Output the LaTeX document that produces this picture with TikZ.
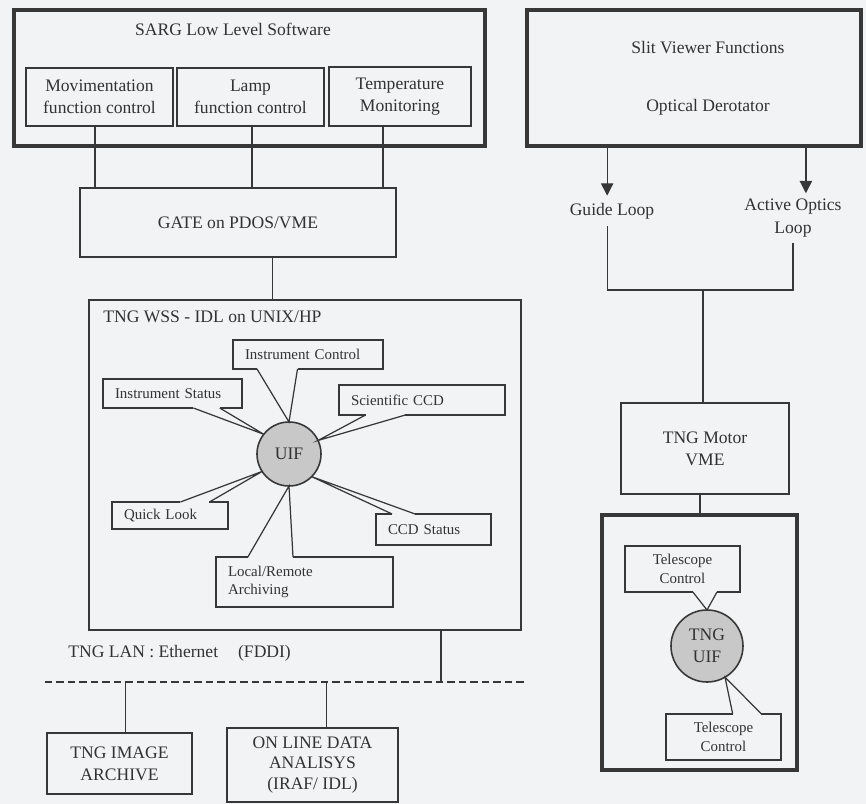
\documentclass[tikz,border=0pt]{standalone}
\usepackage{fontspec}
\setmainfont{Liberation Serif}
\usetikzlibrary{calc,arrows.meta}
\definecolor{bg}{RGB}{242,243,244}
\definecolor{ink}{RGB}{55,55,55}
\definecolor{txt}{RGB}{50,50,50}
\definecolor{uifgray}{RGB}{200,200,200}
\tikzset{
  wh/.style 2 args={minimum width=#1*0.02cm, minimum height=#2*0.02cm},
  box/.style={draw=ink, line width=0.9pt, rectangle, inner sep=0pt, outer sep=0pt, align=center,
    font=\fontsize{10}{12.5}\selectfont, text=txt},
  thickbox/.style={box, line width=1.8pt},
  cbox/.style={box, font=\fontsize{8.5}{10.5}\selectfont},
  cl/.style={cbox, align=left, inner xsep=0.24cm, text width=#1},
  conn/.style={draw=ink, line width=0.7pt},
  uifc/.style={circle, draw=ink, line width=0.9pt, fill=uifgray, inner sep=0pt, outer sep=0pt,
    align=center, font=\fontsize{10}{12.5}\selectfont, text=txt},
  lbl/.style={inner sep=0pt, font=\fontsize{10}{12.5}\selectfont, text=txt, align=center},
  erase/.style={draw=bg, line width=1.4pt},
  lan/.style={draw=ink, line width=1.5pt, dash pattern=on 0.15cm off 0.08cm},
  arr/.style={conn, -{Triangle[length=7pt,width=7pt]}},
}
\newcommand\callptr[5]{%
  \path ($(#1.#2 west)!#3!(#1.#2 east)$) coordinate (#1-b1)
        ($(#1.#2 west)!#4!(#1.#2 east)$) coordinate (#1-b2);
  \draw[erase] (#1-b1) -- (#1-b2);
  \draw[conn] (#1-b1) -- (#5) -- (#1-b2);}
\begin{document}
\begin{tikzpicture}[x=0.02cm,y=-0.02cm]
\fill[bg] (0,0) rectangle (866,804);
\useasboundingbox (0,0) rectangle (866,804);

% ---- SARG block
\node[thickbox, wh={471}{136}] (sarg) at (249.5,78) {};
\node[lbl] (sargt) at (233,29) {SARG Low Level Software};
\node[box, wh={147}{58}] (mov) at (99.5,97) {Movimentation\\function control};
\node[box, wh={147}{58}] (lamp) at (250.5,97) {Lamp\\function control};
\node[box, wh={142}{59}] (temp) at (400,96.5) {Temperature\\Monitoring};
\node[box, wh={316}{69}] (gate) at (238,222.5) {GATE on PDOS/VME};
\path ($(mov.south west)!0.47!(mov.south east)$) coordinate (c1)
      ($(lamp.south west)!0.51!(lamp.south east)$) coordinate (c2)
      ($(temp.south west)!0.38!(temp.south east)$) coordinate (c3)
      ($(gate.south west)!0.61!(gate.south east)$) coordinate (c4);
\draw[conn] (c1) -- (c1 |- gate.north);
\draw[conn] (c2) -- (c2 |- gate.north);
\draw[conn] (c3) -- (c3 |- gate.north);

% ---- TNG WSS block
\node[box, wh={432}{330}] (wss) at (305,465) {};
\node[lbl, anchor=west] (wsst) at (103,317) {TNG WSS - IDL on UNIX/HP};
\draw[conn] (c4) -- (c4 |- wss.north);
\node[uifc, minimum size=64*0.02cm] (uif) at (289,454) {UIF};
\node[cl=2.52cm, wh={150}{29}] (ic) at (308,354.5) {Instrument Control};
\node[cl=2.30cm, wh={139}{29}] (is) at (172.5,393.5) {Instrument Status};
\node[cl=2.84cm, wh={166}{30}] (sccd) at (422,400) {Scientific CCD};
\node[cl=1.84cm, wh={116}{27}] (ql) at (170,515.5) {Quick Look};
\node[cl=1.82cm, wh={115}{31}] (ccds) at (433.5,529.5) {CCD Status};
\node[cl=3.06cm, wh={177}{50}] (lr) at (304.5,582) {Local/Remote\\Archiving};
\callptr{ic}{south}{0.16}{0.43}{uif.north}
\callptr{is}{south}{0.65}{0.84}{uif.142}
\callptr{sccd}{south}{0.16}{0.40}{uif.25}
\callptr{ql}{north}{0.59}{0.84}{uif.213}
\callptr{ccds}{north}{0.14}{0.34}{uif.-45}
\callptr{lr}{north}{0.18}{0.435}{uif.south}

% ---- LAN
\coordinate (lanL) at (45,682);
\coordinate (lanR) at (527,682);
\draw[lan] (lanL) -- (lanR);
\node[lbl, anchor=west] (lant) at (68,653) {TNG LAN : Ethernet\hspace{0.4cm}(FDDI)};
\path ($(wss.south west)!0.815!(wss.south east)$) coordinate (c5);
\draw[conn] (c5) -- (c5 |- lanL);
\node[box, wh={145}{61}] (img) at (119.5,763.5) {TNG IMAGE\\ARCHIVE};
\node[box, wh={171}{74}, font=\fontsize{10}{11.5}\selectfont] (onl) at (312.5,765) {ON LINE DATA\\ANALISYS\\(IRAF/ IDL)};
\path ($(img.north west)!0.54!(img.north east)$) coordinate (c6)
      ($(onl.north west)!0.58!(onl.north east)$) coordinate (c7);
\draw[conn] (c6 |- lanL) -- (c6);
\draw[conn] (c7 |- lanL) -- (c7);

% ---- Slit viewer side
\node[thickbox, wh={334}{136}] (slit) at (694,78) {};
\node[lbl] (slitf) at (708,48) {Slit Viewer Functions};
\node[lbl] (optd) at (708,107) {Optical Derotator};
\node[lbl, inner sep=4pt] (guide) at (612,211) {Guide Loop};
\node[lbl, inner sep=3pt, font=\fontsize{10}{13}\selectfont] (active) at (793,218) {Active Optics\\Loop};
\path ($(slit.south west)!0.24!(slit.south east)$) coordinate (s1)
      ($(slit.south west)!0.835!(slit.south east)$) coordinate (s2);
\draw[arr] (s1) -- (s1 |- guide.north);
\draw[arr] (s2) -- (s2 |- active.north);
\coordinate (jn) at (703,290);
\draw[conn] (s1 |- guide.south) |- (jn) -| (active.south);
\node[box, wh={168}{91}] (motor) at (705,448.5) {TNG Motor\\VME};
\draw[conn] (jn) -- (jn |- motor.north);
\node[thickbox, wh={195}{255}] (tbox) at (699.5,642.5) {};
\path ($(motor.south west)!0.47!(motor.south east)$) coordinate (c8);
\draw[conn] (c8) -- (c8 |- tbox.north);
\node[uifc, minimum size=72*0.02cm] (tuif) at (707,646) {TNG\\UIF};
\node[cbox, wh={115}{46}] (tc1) at (682.5,569) {Telescope\\Control};
\node[cbox, wh={115}{46}] (tc2) at (723.5,737) {Telescope\\Control};
\callptr{tc1}{south}{0.59}{0.80}{tuif.north}
\callptr{tc2}{north}{0.58}{0.83}{tuif.-60}
\end{tikzpicture}
\end{document}
